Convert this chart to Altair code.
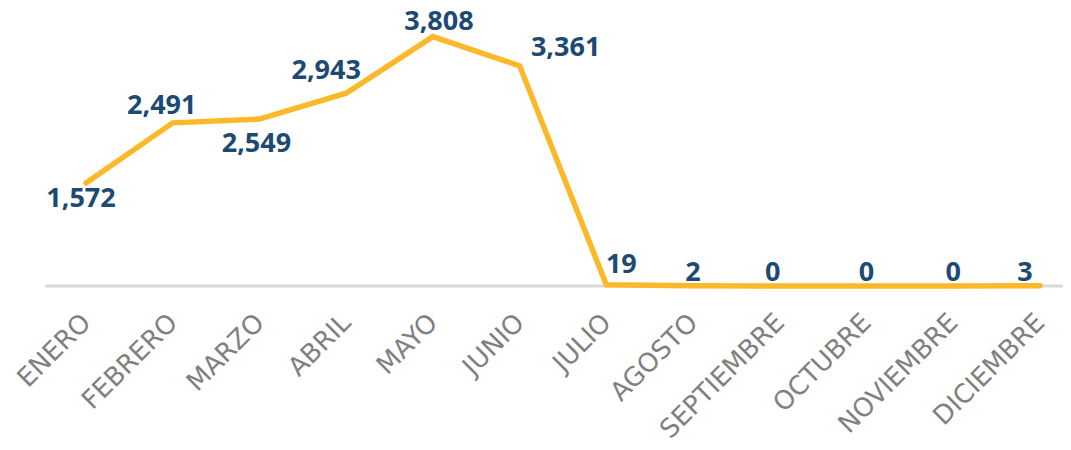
import altair as alt
import pandas as pd

months = ["ENERO", "FEBRERO", "MARZO", "ABRIL", "MAYO", "JUNIO", "JULIO",
          "AGOSTO", "SEPTIEMBRE", "OCTUBRE", "NOVIEMBRE", "DICIEMBRE"]
values = [1572, 2491, 2549, 2943, 3808, 3361, 19, 2, 0, 0, 0, 3]

# label placement (style): dx, dy in pixels relative to the point
label_offsets = {
    "ENERO": (-5, 16), "FEBRERO": (-11, -17), "MARZO": (-3, 25),
    "ABRIL": (-20, -22), "MAYO": (6, -15), "JUNIO": (46, -18),
    "JULIO": (15, -20), "AGOSTO": (0, -13), "SEPTIEMBRE": (-7, -13),
    "OCTUBRE": (0, -13), "NOVIEMBRE": (0, -13), "DICIEMBRE": (-15, -13),
}

df = pd.DataFrame({"mes": months, "valor": values})

W, H = 1018, 262
LINE = "#FBB829"
LABEL = "#1C4A72"
GRAY = "#808080"

x_enc = alt.X("mes:N", sort=months,
              scale=alt.Scale(type="point", range=[41, 995], padding=0),
              axis=alt.Axis(title=None, domain=False, ticks=False, grid=False,
                            labelAngle=-45, labelAlign="right", labelBaseline="middle",
                            labelPadding=32, labelFont="DejaVu Sans", labelFontSize=26,
                            labelColor=GRAY, labelOverlap=False, labelLimit=300))
y_enc = alt.Y("valor:Q", scale=alt.Scale(domain=[0, 4000]), axis=None)

base = alt.Chart(df)

rule = alt.Chart(pd.DataFrame({"z": [0]})).mark_rule(color="#D9D9D9", strokeWidth=3).encode(
    y=alt.Y("z:Q", scale=alt.Scale(domain=[0, 4000]), axis=None),
    x=alt.value(0), x2=alt.value(W))

line = base.mark_line(color=LINE, strokeWidth=5.5, strokeCap="round", strokeJoin="miter").encode(
    x=x_enc, y=y_enc)

texts = []
for m in months:
    dx, dy = label_offsets[m]
    texts.append(
        base.transform_filter(alt.datum.mes == m).mark_text(
            font="Open Sans", fontSize=27, fontWeight="bold", color=LABEL,
            align="center", baseline="middle", dx=dx, dy=dy
        ).encode(x=x_enc, y=y_enc, text=alt.Text("valor:Q", format=","))
    )

chart = alt.layer(rule, line, *texts).properties(
    width=W, height=H,
    background="white",
    autosize=alt.AutoSizeParams(type="none"),
    padding={"left": 37, "top": 16, "right": 0, "bottom": 162},
).configure_view(strokeWidth=0, stroke=None)

chart.save("out.html", embed_options={"renderer": "svg", "actions": False})
